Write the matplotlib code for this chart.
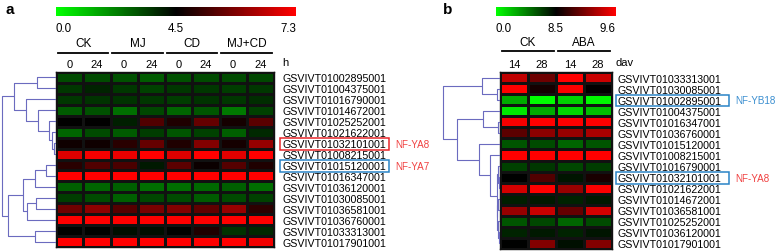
import numpy as np
import matplotlib
matplotlib.use('Agg')
from matplotlib import pyplot as plt
from matplotlib.colors import LinearSegmentedColormap, TwoSlopeNorm
from matplotlib.cm import ScalarMappable
from matplotlib.patches import Rectangle

plt.rcParams['font.family'] = ['Liberation Sans', 'DejaVu Sans']

W, H = 778, 253

#----------------------------------------------------------------------------#
# panel a : CK / MJ / CD / MJ+CD, 0 and 24 h
genes_a = ['GSVIVT01002895001', 'GSVIVT01004375001', 'GSVIVT01016790001', 'GSVIVT01014672001',
           'GSVIVT01025252001', 'GSVIVT01021622001', 'GSVIVT01032101001', 'GSVIVT01008215001',
           'GSVIVT01015120001', 'GSVIVT01016347001', 'GSVIVT01036120001', 'GSVIVT01030085001',
           'GSVIVT01036581001', 'GSVIVT01036760001', 'GSVIVT01033313001', 'GSVIVT01017901001']
groups_a = ['CK', 'MJ', 'CD', 'MJ+CD']
times_a = ['0', '24', '0', '24', '0', '24', '0', '24']
ticks_a = [0.0, 4.5, 7.3]
vals_a = [
    [3.18, 3.18, 3.09, 2.91, 3.09, 3.18, 3.18, 3.26],
    [3.53, 3.88, 3.53, 3.35, 3.53, 3.53, 3.44, 3.53],
    [3.53, 3.62, 3.62, 3.53, 3.44, 3.62, 3.53, 3.71],
    [2.91, 3.09, 2.56, 3.26, 2.74, 3.00, 2.38, 3.35],
    [4.50, 4.52, 3.97, 5.38, 4.83, 5.60, 4.72, 5.49],
    [2.74, 3.18, 2.91, 3.44, 3.00, 3.35, 2.82, 3.79],
    [4.66, 4.66, 4.94, 5.60, 4.83, 5.93, 4.72, 6.15],
    [6.92, 7.19, 7.08, 7.30, 6.92, 7.30, 6.97, 7.30],
    [4.94, 5.38, 5.33, 4.06, 5.49, 4.61, 5.43, 4.83],
    [7.30, 7.30, 7.30, 7.30, 7.30, 7.30, 7.30, 7.30],
    [2.82, 2.74, 2.82, 2.56, 2.56, 2.65, 2.82, 2.56],
    [3.44, 3.18, 2.82, 3.26, 3.18, 2.91, 3.18, 3.35],
    [5.71, 6.04, 5.43, 5.82, 5.93, 5.54, 6.15, 4.99],
    [7.30, 7.30, 7.30, 7.30, 7.30, 7.30, 7.30, 7.30],
    [4.45, 4.45, 4.24, 4.24, 4.45, 4.83, 3.62, 3.79],
    [7.30, 7.30, 7.30, 7.30, 7.30, 7.30, 7.30, 7.14]]
# tree: (height, left, right), leaves = row index
tree_a = (54, (42, (19, 0, 1), (30, 2, (18, 3, (7, 4, (4, 5, (2, 6, 7)))))),
          (48, (33, (21, (10, 8, 9), 10), (29, (20, 11, 12), 13)), (21, 14, 15)))
marks_a = [(6, 'NF-YA8', '#e8262a', '#f04040'), (8, 'NF-YA7', '#2a84c6', '#f04040')]

#----------------------------------------------------------------------------#
# panel b : CK / ABA, 14 and 28 dav
genes_b = ['GSVIVT01033313001', 'GSVIVT01030085001', 'GSVIVT01002895001', 'GSVIVT01004375001',
           'GSVIVT01016347001', 'GSVIVT01036760001', 'GSVIVT01015120001', 'GSVIVT01008215001',
           'GSVIVT01016790001', 'GSVIVT01032101001', 'GSVIVT01021622001', 'GSVIVT01014672001',
           'GSVIVT01036581001', 'GSVIVT01025252001', 'GSVIVT01036120001', 'GSVIVT01017901001']
groups_b = ['CK', 'ABA']
times_b = ['14', '28', '14', '28']
ticks_b = [0.0, 8.5, 9.6]
vals_b = [
    [9.32, 8.97, 9.60, 9.36],
    [9.60, 8.59, 9.58, 8.50],
    [2.83, 0.00, 1.50, 0.33],
    [0.83, 2.83, 1.33, 2.17],
    [9.56, 9.60, 9.60, 9.60],
    [8.89, 9.10, 9.15, 9.23],
    [5.67, 6.00, 5.17, 5.67],
    [9.60, 9.60, 9.60, 9.60],
    [6.33, 6.67, 6.17, 6.50],
    [8.45, 8.85, 7.83, 8.61],
    [9.41, 9.60, 9.15, 9.58],
    [7.50, 7.67, 7.33, 7.67],
    [9.15, 9.36, 8.93, 9.41],
    [5.67, 6.17, 5.17, 6.00],
    [7.33, 7.67, 7.33, 7.83],
    [8.45, 9.06, 8.00, 9.06]]
tree_b = (57, (18, 0, (3, 1, 2)),
          (43, (17, 3, (2, 4, 5)),
           (21, 6, (10, 7, (3.5, (2.5, 8, (1.5, 9, 10)), (3, (2, 11, 12), (2.5, 13, (1.5, 14, 15))))))))
marks_b = [(2, 'NF-YB18', '#2a84c6', '#3a8ed0'), (9, 'NF-YA8', '#2a84c6', '#f04040')]

#----------------------------------------------------------------------------#
cmap = LinearSegmentedColormap.from_list('gkr', ['#00ff00', '#000000', '#ff0000'])
line_col = '#6b6bbf'


def px(x0, y0, x1, y1):
    # pixel box (from top-left) -> figure rect
    return [x0 / W, 1 - y1 / H, (x1 - x0) / W, (y1 - y0) / H]


def draw_tree(ax, node):
    if not isinstance(node, tuple):
        return node + 0.5, 0
    h, left, right = node
    y1, h1 = draw_tree(ax, left)
    y2, h2 = draw_tree(ax, right)
    ax.plot([h1, h, h, h2], [y1, y1, y2, y2], color=line_col, lw=0.8, solid_capstyle='butt')
    return (y1 + y2) / 2, h


def panel(hm_box, dn_box, cb_box, genes, groups, times, vals, ticks, tree, marks,
          unit, unit_x, gene_pad, box_x, mark_x, line_y, group_y):
    vals = np.array(vals)
    nrow, ncol = vals.shape
    norm = TwoSlopeNorm(vmin=ticks[0], vcenter=ticks[1], vmax=ticks[2])

    ax = fig.add_axes(px(*hm_box))
    ax.pcolormesh(vals, cmap=cmap, norm=norm, edgecolors='#111111', linewidth=1.0)
    ax.set_xlim(0, ncol)
    ax.set_ylim(nrow, 0)
    for s in ax.spines.values():
        s.set_color('#111111')
        s.set_linewidth(1.0)
    ax.yaxis.tick_right()
    ax.set_yticks(np.arange(nrow) + 0.5, genes)
    ax.tick_params(axis='y', length=0, pad=gene_pad, labelsize=7.7)
    ax.xaxis.tick_top()
    ax.set_xticks(np.arange(ncol) + 0.5, times)
    ax.tick_params(axis='x', length=0, pad=2, labelsize=8)

    tr = ax.get_xaxis_transform()
    for g, name in enumerate(groups):
        ax.plot([2 * g + 0.06, 2 * g + 1.92], [line_y, line_y], transform=tr,
                clip_on=False, color='black', lw=1.3)
        ax.text(2 * g + 1, group_y, name, transform=tr, ha='center', va='center', fontsize=8.5)
    ax.text(unit_x, 1.055, unit, transform=ax.transAxes, ha='left', va='center', fontsize=8)

    tr_y = ax.get_yaxis_transform()
    for row, name, ec, tc in marks:
        ax.add_patch(Rectangle((box_x[0], row + 0.05), box_x[1] - box_x[0], 1.05,
                               transform=tr_y, fill=False, ec=ec, lw=1.1, clip_on=False))
        ax.text(mark_x, row + 0.55, name, transform=tr_y, ha='left', va='center',
                fontsize=7.1, color=tc)

    dax = fig.add_axes(px(*dn_box))
    draw_tree(dax, tree)
    dax.set_xlim(dn_box[2] - dn_box[0], 0)
    dax.set_ylim(nrow, 0)
    dax.axis('off')

    cax = fig.add_axes(px(*cb_box))
    cb = fig.colorbar(ScalarMappable(norm=norm, cmap=cmap), cax=cax, orientation='horizontal')
    cb.set_ticks(ticks, labels=['%.1f' % t for t in ticks])
    cb.outline.set_visible(False)
    cax.tick_params(length=0, pad=4, labelsize=8.3)
    for lbl, ha in zip(cax.get_xticklabels(), ['left', 'center', 'right']):
        lbl.set_ha(ha)


fig = plt.figure(figsize=(W / 100, H / 100), dpi=100)

panel((56, 73, 274, 248), (0, 73, 56, 248), (56, 8, 296, 17), genes_a, groups_a, times_a,
      vals_a, ticks_a, tree_a, marks_a, 'h', 1.037, 5.8, (1.0275, 1.5275), 1.555, 1.109, 1.166)
panel((500, 73, 612, 250), (440, 73, 500, 250), (496, 8, 616, 17), genes_b, groups_b, times_b,
      vals_b, ticks_b, tree_b, marks_b, 'dav', 1.035, 4.3, (1.036, 2.045), 2.098, 1.119, 1.17)

fig.text(5 / W, 1 - 3 / H, 'a', fontsize=11, fontweight='bold', va='top')
fig.text(443 / W, 1 - 3 / H, 'b', fontsize=11, fontweight='bold', va='top')

fig.savefig('out.png', dpi=100)
